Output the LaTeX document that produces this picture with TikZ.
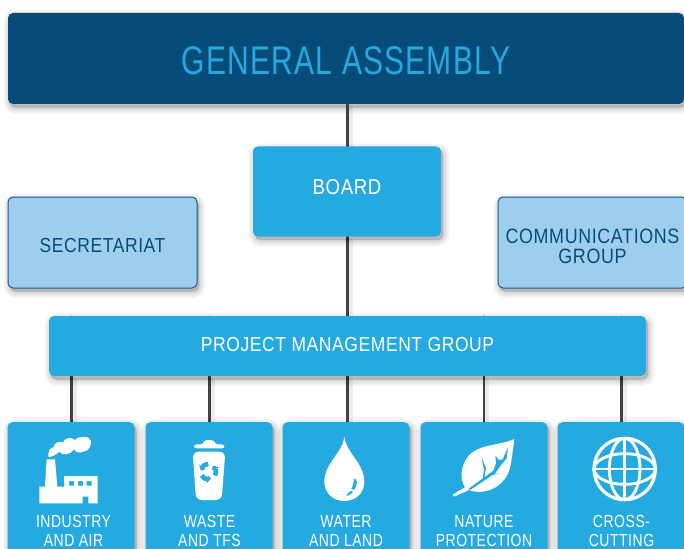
\documentclass[tikz,border=0pt]{standalone}
\usepackage{fontspec}
\setmainfont[FakeStretch=0.86,LetterSpace=3]{Liberation Sans}
\newfontfamily\headfont[FakeStretch=0.75,LetterSpace=3]{Liberation Sans}
\newfontfamily\labfont[FakeStretch=0.80,LetterSpace=3]{Liberation Sans}
\usetikzlibrary{calc}
\definecolor{navy}{HTML}{074C78}
\definecolor{sky}{HTML}{25A9E1}
\definecolor{pale}{HTML}{9DCEEE}
\definecolor{edge}{HTML}{17598A}
\definecolor{wire}{HTML}{414042}
\tikzset{
  shadowlayer/.style={preaction={draw=black,fill=black,opacity=0.03,line join=round,line width=#1,transform canvas={xshift=2pt,yshift=-3.5pt}}},
  softshadow/.style={shadowlayer=13pt,shadowlayer=10.5pt,shadowlayer=8pt,shadowlayer=5.5pt,shadowlayer=3pt,shadowlayer=1pt},
  boxbase/.style={rectangle,rounded corners=5pt,minimum width=#1,inner sep=0pt,softshadow},
  textdrop/.style={text height=20pt+#1,text depth=20pt-#1},
  topbox/.style={boxbase=676pt,minimum height=91pt,fill=navy,text=sky,font=\headfont\fontsize{40}{40}\selectfont,textdrop=15.8pt},
  midbox/.style={boxbase=#1,fill=sky,text=white,font=\fontsize{20.3}{20}\selectfont},
  sidebox/.style={boxbase=189pt,minimum height=91pt,fill=pale,draw=edge,line width=1pt,text=navy,align=center,font=\fontsize{20.3}{20}\selectfont},
  workbox/.style={boxbase=127pt,minimum height=140pt,fill=sky},
  worklabel/.style={text=white,align=center,font=\labfont\fontsize{17.5}{19.5}\selectfont,inner sep=0pt,anchor=north},
  wireline/.style={draw=wire,line width=2.3pt,preaction={draw=black,draw opacity=0.07,line width=4.5pt,transform canvas={xshift=3pt,yshift=-2pt}}},
  stubline/.style={draw=black!22,line width=1.6pt},
  icon/.style={x=0.33333pt,y=-0.33333pt},
}
\begin{document}
\begin{tikzpicture}[x=1pt,y=-1pt]
\useasboundingbox (0,0) rectangle (684,548);
\clip (0,0) rectangle (684,548);
% nodes
\node[topbox] (ga) at (346,58.5) {GENERAL ASSEMBLY};
\coordinate (gaFoot) at (347.5,104);
\coordinate (bdTop) at (347.5,147);
\coordinate (bdFoot) at (347.5,236);
\coordinate (pmTop) at (347.5,316);
\draw[wireline] (gaFoot) -- (bdTop);
\draw[wireline] (bdFoot) -- (pmTop);
\node[midbox=188pt,minimum height=90pt,textdrop=3pt,font=\fontsize{21.6}{20}\selectfont] (board) at (347,191.5) {BOARD};
\node[sidebox,textdrop=10pt] (sec) at (102.5,242.5) {SECRETARIAT};
\node[sidebox,text height=41pt,text depth=0pt,font=\fontsize{20.8}{20}\selectfont] (com) at (592.5,242.5) {COMMUNICATIONS\\GROUP};
\coordinate (c1) at (71.5,376);
\coordinate (c2) at (209.5,376);
\coordinate (c3) at (347.5,376);
\coordinate (c4) at (484,376);
\coordinate (c5) at (621.5,376);
\foreach \c in {c1,c2,c4,c5} \draw[stubline] (\c |- 0,315) -- (\c |- 0,317);
\foreach \c in {c1,c2,c3,c4,c5} \draw[wireline] (\c) -- ++(0,46);
\node[midbox=597pt,minimum height=60pt,textdrop=5.5pt] (pmg) at (347.5,346) {PROJECT MANAGEMENT GROUP};
\node[workbox,anchor=north] (b1) at (71,422) {};
\node[workbox,anchor=north] (b2) at (209,422) {};
\node[workbox,anchor=north] (b3) at (346,422) {};
\node[workbox,anchor=north] (b4) at (484,422) {};
\node[workbox,anchor=north] (b5) at (621,422) {};
\node[worklabel] (l1) at (73.5,515) {INDUSTRY\\AND AIR};
\node[worklabel] (l2) at (209.5,515) {WASTE\\AND TFS};
\node[worklabel] (l3) at (346,515) {WATER\\AND LAND};
\node[worklabel] (l4) at (484,515) {NATURE\\PROTECTION};
\node[worklabel] (l5) at (621.5,515) {CROSS-\\CUTTING};
% factory
\begin{scope}[icon,shift={(0pt,-410pt)}]
\fill[white,even odd rule] (118,230)--(135,230)--(140,148)--(165,148)--(172,230)--(192,230)--(192,198)--(293,198)--(293,280)--(265,280)--(265,260)--(248,260)--(248,280)--(118,280)--cycle
 (207,213) rectangle (222,227) (234,213) rectangle (249,227) (260,213) rectangle (275,227);
\fill[white] (145,142) .. controls (143,125) and (150,112) .. (160,112)
 .. controls (165,95) and (180,92) .. (188,98)
 .. controls (192,85) and (215,78) .. (225,90)
 .. controls (235,78) and (268,75) .. (273,92)
 .. controls (276,105) and (265,125) .. (250,125)
 .. controls (240,130) and (228,128) .. (222,118)
 .. controls (212,135) and (185,138) .. (178,125)
 .. controls (168,135) and (155,140) .. (145,142) -- cycle;
% bin
\fill[white,rounded corners=2.5pt] (610,103) .. controls (612,88) and (642,88) .. (645,103) -- (672,103) -- (674,115) -- (582,115) -- (582,103) -- cycle;
\fill[white,rounded corners=6pt] (578,125) -- (676,125) -- (665,270) -- (588,270) -- cycle;
\begin{scope}[shift={(625,185)}]
\foreach \a in {0,120,240}{
  \draw[sky,line width=4.6pt,rotate=\a] (150:23) arc[start angle=150,end angle=98,radius=23];
  \fill[sky,rotate=\a] (98:11) -- (98:35) -- (68:23) -- cycle;
}
\end{scope}
\end{scope}
\begin{scope}[icon,shift={(280pt,-410pt)}]
% drop
\fill[white] (193,80) .. controls (190,125) and (133,160) .. (133,215) .. controls (133,250) and (160,273) .. (193,273) .. controls (226,273) and (253,250) .. (253,215) .. controls (253,160) and (196,125) .. (193,80) -- cycle;
\fill[sky] (222,206) .. controls (232,206) and (235,220) .. (222,240) -- (214,236) .. controls (222,225) and (220,215) .. (222,206) -- cycle;
\fill[sky] (200,254) -- (212,243) -- (218,243) .. controls (218,250) and (208,256) .. (200,258) -- cycle;
% leaf
\fill[white] (703,87) .. controls (660,108) and (590,100) .. (560,145) .. controls (543,172) and (538,205) .. (555,232) -- (518,254) -- (522,260) -- (567,240) .. controls (612,258) and (680,232) .. (692,165) .. controls (697,135) and (700,110) .. (703,87) -- cycle;
\fill[sky] (566,236) -- (640,182) -- (648,160) -- (646,136) -- (656,150) -- (668,148) -- (684,112) -- (680,145) -- (664,164) -- (644,192) -- (662,188) -- (636,196) -- (570,240) -- cycle;
\fill[sky] (606,216) -- (612,180) -- (604,140) -- (618,175) -- (612,212) -- cycle;
% globe
\draw[white,line width=3.2pt] (1034,177) circle[radius=92];
\draw[white,line width=2.9pt] (1034,177) ellipse[x radius=46,y radius=92];
\draw[white,line width=2.9pt] (1034,177) ellipse[x radius=92,y radius=46];
\draw[white,line width=2.9pt] (1034,85) -- (1034,269);
\draw[white,line width=2.9pt] (942,177) -- (1126,177);
\end{scope}
\end{tikzpicture}
\end{document}
